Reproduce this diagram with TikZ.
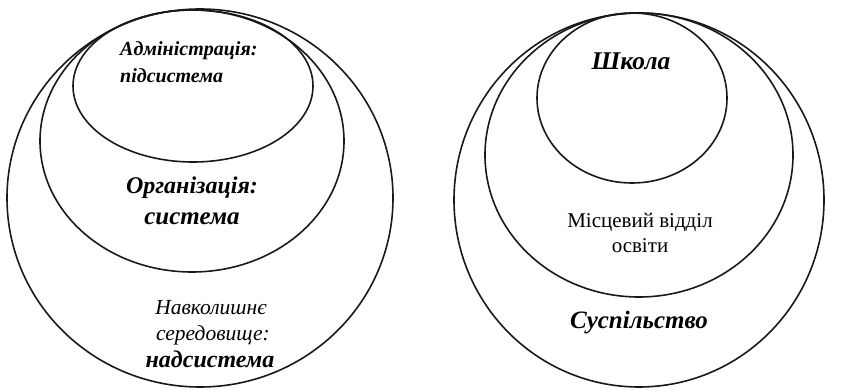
\documentclass[tikz,border=0pt]{standalone}
\usepackage{fontspec}
\setmainfont{Liberation Serif}
\begin{document}
\begin{tikzpicture}[x=1pt,y=-1pt,
  ring/.style={line width=1.6pt, draw=black!90},
  bi/.style={font=\fontsize{#1}{#1}\selectfont\bfseries\itshape, inner sep=0pt},
  it/.style={font=\fontsize{#1}{#1}\selectfont\itshape, inner sep=0pt},
  up/.style={font=\fontsize{#1}{#1}\selectfont, inner sep=0pt}]
\useasboundingbox (0,0) rectangle (868,390);
% left set
\draw[ring] (200,198) ellipse [x radius=193pt, y radius=189pt];
\draw[ring] (192,141) ellipse [x radius=152pt, y radius=131pt];
\draw[ring] (193,86) ellipse [x radius=120pt, y radius=76pt];
% right set
\draw[ring] (639,200) ellipse [x radius=185pt, y radius=187pt];
\draw[ring] (639,155) ellipse [x radius=154pt, y radius=142pt];
\draw[ring] (632,98) ellipse [x radius=95pt, y radius=85pt];
% labels left
\node[bi=20, anchor=base west] (adm) at (120,56) {Адміністрація:};
\node[bi=20, anchor=base west] (sub) at (120,83) {підсистема};
\node[bi=24, anchor=base] (org) at (192,194) {Організація:};
\node[bi=25, anchor=base] (sys) at (192,225) {система};
\node[it=21.5, anchor=base] (env1) at (211,315) {Навколишнє};
\node[it=21.5, anchor=base] (env2) at (213,340) {середовище:};
\node[bi=24, anchor=base] (sup) at (210,367) {надсистема};
% labels right
\node[bi=25.5, anchor=base] (school) at (631,70) {Школа};
\node[up=21, anchor=base] (dep1) at (640,228) {Місцевий відділ};
\node[up=21, anchor=base] (dep2) at (640,253) {освіти};
\node[bi=25, anchor=base] (soc) at (639,328) {Суспільство};
\end{tikzpicture}
\end{document}
